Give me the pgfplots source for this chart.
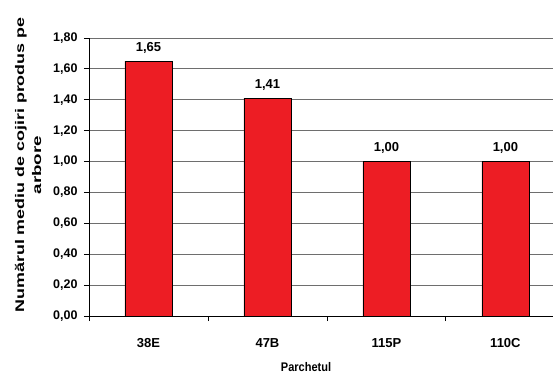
\documentclass[border=0pt]{standalone}
\usepackage{pgfplots}
\pgfplotsset{compat=1.18}
\usepackage{fontspec}
\setmainfont{Liberation Sans}
\definecolor{barred}{RGB}{237,29,36}
\definecolor{gridgray}{RGB}{110,110,110}
\begin{document}
\begin{tikzpicture}
\begin{axis}[
  at={(0pt,0pt)}, anchor=south west,
  scale only axis,
  width=464pt, height=278pt,
  xmin=-0.5, xmax=3.4,
  ymin=0, ymax=1.8,
  axis x line*=bottom, axis y line*=left,
  axis line style={-, black, line width=0.9pt},
  xtick={0,1,2,3},
  xticklabels={38E,47B,115P,110C},
  major x tick style={draw=none},
  minor xtick={-0.5,0.5,1.5,2.5},
  minor x tick style={black, line width=0.9pt},
  minor tick length=5pt,
  ytick={0,0.2,...,1.81},
  major tick length=5pt,
  tick align=outside,
  ytick style={black, line width=0.9pt},
  ymajorgrids,
  grid style={gridgray, line width=0.9pt},
  /pgf/number format/assume math mode=true,
  yticklabel style={font=\fontsize{12.5}{14}\selectfont\bfseries, anchor=east, xshift=-3pt,
    /pgf/number format/.cd, fixed, fixed zerofill, precision=2, use comma},
  xticklabel style={font=\fontsize{13}{15}\selectfont\bfseries, anchor=base, yshift=-26pt},
  xlabel={\scalebox{0.88}[1]{Parchetul}},
  xlabel style={font=\fontsize{12.5}{14}\selectfont\bfseries,
    at={(axis description cs:0.4677,0)}, anchor=base, yshift=-55pt},
  ylabel={\scalebox{1.43}[1]{Numărul mediu de cojiri produs pe}\\\scalebox{1.5}[1]{arbore}},
  ylabel style={font=\fontsize{12.5}{17}\selectfont\bfseries, align=center,
    at={(axis description cs:0,0.5)}, anchor=center, xshift=12pt, yshift=61pt},
  ybar, bar width=47pt,
  nodes near coords,
  nodes near coords style={font=\fontsize{13}{15}\selectfont\bfseries, anchor=base, yshift=10pt,
    /pgf/number format/.cd, fixed, fixed zerofill, precision=2, use comma},
  clip=false,
]
\addplot[fill=barred, draw=black, line width=0.8pt] coordinates {
  (0,1.65) (1,1.41) (2,1.00) (3,1.00)
};
\end{axis}
\pgfresetboundingbox
\useasboundingbox (-89pt,-60pt) rectangle (464pt,316pt);
\end{tikzpicture}
\end{document}
